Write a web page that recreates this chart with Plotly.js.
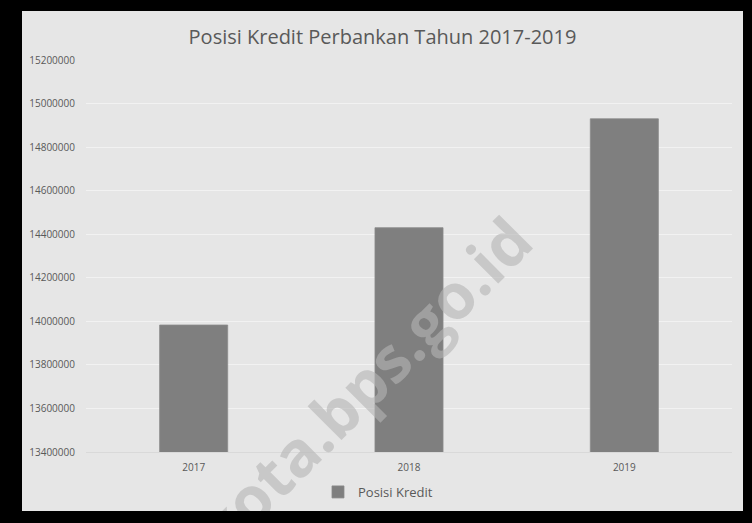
<!DOCTYPE html>
<html>
<head>
<meta charset="utf-8">
<script src="https://cdn.plot.ly/plotly-3.0.1.min.js"></script>
<style>
html,body{margin:0;padding:0;background:#000;width:752px;height:523px;overflow:hidden;}
#chart{position:absolute;left:22px;top:11px;width:721px;height:500px;}
</style>
</head>
<body>
<div id="chart"></div>
<script>
var years = ['2017', '2018', '2019'];
var posisiKredit = [13983000, 14430000, 14930000];
var yTicks = [13400000, 13600000, 13800000, 14000000, 14200000, 14400000, 14600000, 14800000, 15000000, 15200000];
var seriesName = 'Posisi Kredit';
var chartTitle = 'Posisi Kredit Perbankan Tahun 2017-2019';
var watermark = 'kota.bps.go.id';

var trace = {
  type: 'bar',
  x: years,
  y: posisiKredit,
  name: seriesName,
  marker: {color: '#7f7f7f', line: {color: '#8a8a8a', width: 0.8}},
  hoverinfo: 'x+y'
};

var layout = {
  width: 721, height: 500,
  margin: {l: 64, r: 11, t: 49, b: 59, autoexpand: false},
  paper_bgcolor: '#e6e6e6',
  plot_bgcolor: 'rgba(0,0,0,0)',
  font: {family: 'Open Sans, sans-serif', color: '#595959'},
  title: {text: chartTitle, font: {size: 20, color: '#595959', family: 'Open Sans, sans-serif'}, x: 0.5, xanchor: 'center', y: 0.948, yanchor: 'middle'},
  bargap: 0.684,
  showlegend: true,
  legend: {orientation: 'h', x: 0.452, xanchor: 'center', y: -0.102, yanchor: 'middle', font: {size: 13, color: '#595959'}, bgcolor: 'rgba(0,0,0,0)'},
  xaxis: {
    type: 'category',
    showgrid: false,
    showline: true, linecolor: '#d9d9d9', linewidth: 1,
    ticks: '', tickfont: {size: 10, color: '#595959'},
    ticklabelstandoff: 6,
    fixedrange: true
  },
  yaxis: {
    range: [13400000, 15200000],
    tickvals: yTicks,
    ticktext: yTicks.map(function(v){return String(v);}),
    showgrid: true, gridcolor: '#f2f2f2', gridwidth: 1,
    zeroline: false, showline: false,
    ticks: '', tickfont: {size: 10, color: '#595959'},
    ticklabelstandoff: 10,
    fixedrange: true
  },
  shapes: [{
    type: 'rect', xref: 'paper', yref: 'paper', layer: 'above',
    x0: 0.431, x1: 0.435, y0: 0.164, y1: 0.168,
    line: {width: 0}, fillcolor: 'rgba(0,0,0,0)',
    label: {text: watermark, textangle: -45, textposition: 'middle center',
      font: {size: 63, color: 'rgba(180,180,180,0.6)', family: 'Open Sans, sans-serif', weight: 'bold'}}
  }]
};

Plotly.newPlot('chart', [trace], layout, {displayModeBar: false, staticPlot: true});
</script>
</body>
</html>
